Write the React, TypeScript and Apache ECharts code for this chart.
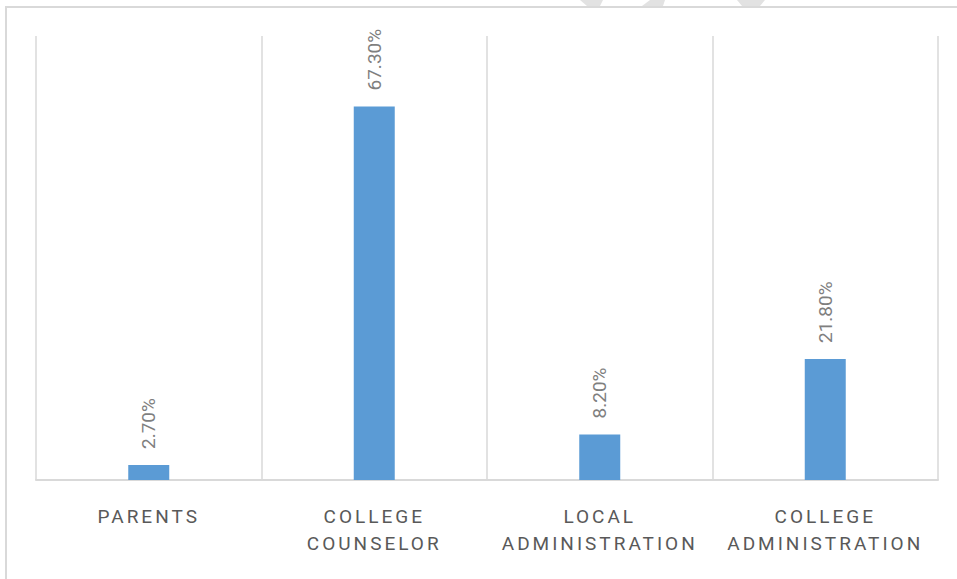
import React, { useEffect, useRef } from "react";
import * as echarts from "echarts";

const categories = ["PARENTS", "COLLEGE\nCOUNSELOR", "LOCAL\nADMINISTRATION", "COLLEGE\nADMINISTRATION"];
const values = [2.7, 67.3, 8.2, 21.8];
const valueLabels = ["2.70%", "67.30%", "8.20%", "21.80%"];

export default function App() {
  const ref = useRef<HTMLDivElement>(null);
  useEffect(() => {
    if (!ref.current) return;
    const chart = echarts.init(ref.current, null, { renderer: "svg" });
    chart.setOption({
      animation: false,
      backgroundColor: "#ffffff",
      grid: { left: 36, right: 19, top: 36, bottom: 99 },
      xAxis: {
        type: "category",
        data: categories,
        axisLine: { show: true, lineStyle: { color: "#d9d9d9", width: 2 } },
        axisTick: { show: false },
        splitLine: { show: true, lineStyle: { color: "#d9d9d9", width: 1.5 } },
        axisLabel: {
          color: "#595959",
          fontFamily: "Roboto",
          fontSize: 19,
          lineHeight: 27,
          margin: 23,
          interval: 0,
        },
      },
      yAxis: {
        type: "value",
        min: 0,
        max: 80,
        show: false,
        splitLine: { show: false },
      },
      series: [
        {
          type: "bar",
          data: values,
          barWidth: 41,
          itemStyle: { color: "#5b9bd5" },
          label: {
            show: true,
            position: "top",
            rotate: 90,
            align: "left",
            verticalAlign: "middle",
            distance: 16,
            color: "#7f7f7f",
            fontFamily: "Roboto",
            fontSize: 19,
            formatter: (p: any) => valueLabels[p.dataIndex],
          },
        },
      ],
      graphic: [
        {
          type: "polyline",
          shape: { points: [[6, 600], [6, 7], [980, 7]] },
          style: { stroke: "#d9d9d9", lineWidth: 2, fill: null },
          silent: true,
        },
        {
          type: "polygon",
          shape: { points: [[580, 0], [603, 0], [600, 6], [587, 6]] },
          style: { fill: "#e2e2e2" },
          silent: true,
        },
        {
          type: "polygon",
          shape: { points: [[650, 0], [665, 0], [663, 6], [642, 6]] },
          style: { fill: "#e2e2e2" },
          silent: true,
        },
        {
          type: "polygon",
          shape: { points: [[737, 0], [765, 0], [760, 6], [742, 6]] },
          style: { fill: "#e2e2e2" },
          silent: true,
        },
      ],
    });
    return () => chart.dispose();
  }, []);
  return (
    <>
      <style>{`
        body { margin: 0; }
        .chart-box text[fill="#595959"], .chart-box text[fill="rgb(89,89,89)"] { letter-spacing: 3px; }
      `}</style>
      <div className="chart-box" ref={ref} style={{ width: 957, height: 579 }} />
    </>
  );
}
